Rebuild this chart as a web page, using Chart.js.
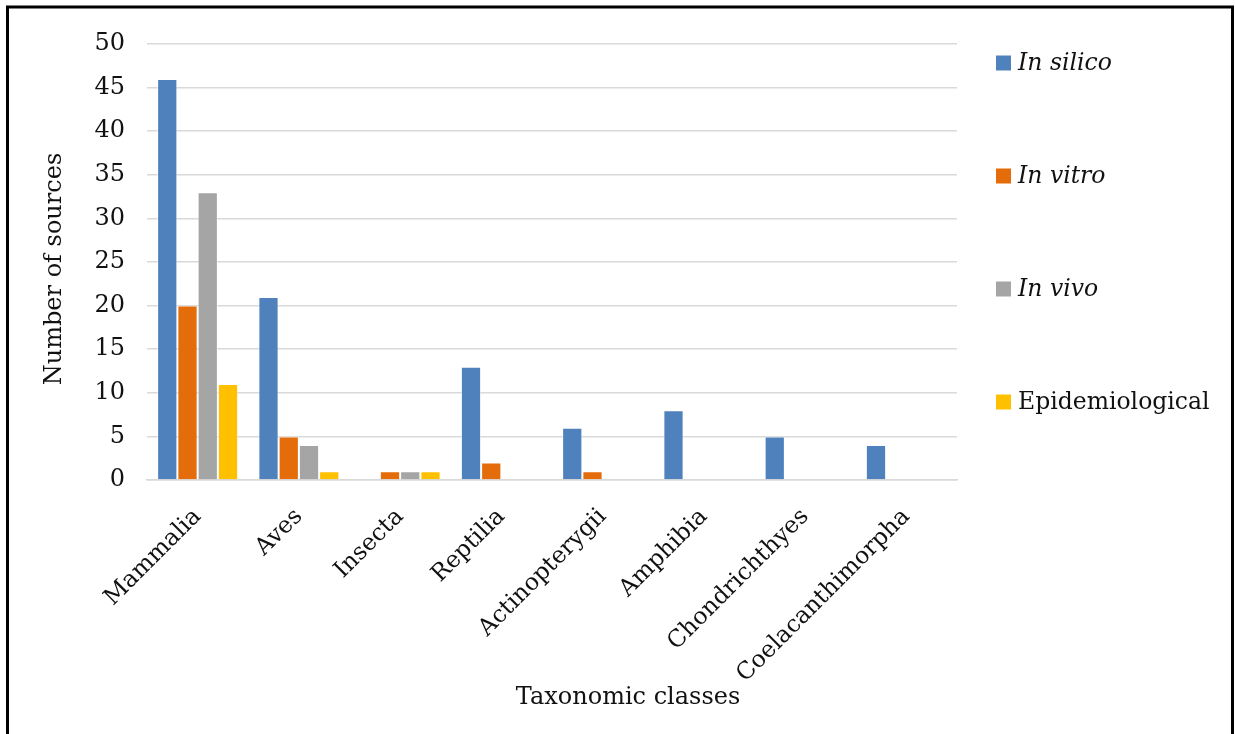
<!DOCTYPE html>
<html>
<head>
<meta charset="utf-8">
<script src="https://cdn.jsdelivr.net/npm/chart.js@4.4.1/dist/chart.umd.min.js"></script>
<style>
  html, body { margin: 0; padding: 0; background: #fff; }
  #wrap { position: relative; width: 1235px; height: 734px; }
</style>
</head>
<body>
<div id="wrap"><canvas id="c" width="1235" height="734"></canvas></div>
<script>
const categories = ["Mammalia", "Aves", "Insecta", "Reptilia", "Actinopterygii", "Amphibia", "Chondrichthyes", "Coelacanthimorpha"];
const inSilico = [46, 21, 0, 13, 6, 8, 5, 4];
const inVitro = [20, 5, 1, 2, 1, 0, 0, 0];
const inVivo = [33, 4, 1, 0, 0, 0, 0, 0];
const epidemiological = [11, 1, 1, 0, 0, 0, 0, 0];
const seriesNames = ["In silico", "In vitro", "In vivo", "Epidemiological"];
const seriesItalic = [true, true, true, false];
const yTicks = [0, 5, 10, 15, 20, 25, 30, 35, 40, 45, 50];
const xTitle = "Taxonomic classes";
const yTitle = "Number of sources";

const FONT = "'DejaVu Serif', 'Liberation Serif', serif";
const colors = ["#4F81BD", "#E46C0A", "#A5A5A5", "#FFC000"];

const framePlugin = {
  id: 'frame',
  afterDraw(chart) {
    const ctx = chart.ctx;
    ctx.save();
    // outer frame (top, left, right)
    ctx.strokeStyle = '#000';
    ctx.lineWidth = 3;
    ctx.beginPath();
    ctx.moveTo(7.5, 740);
    ctx.lineTo(7.5, 7);
    ctx.lineTo(1232.5, 7);
    ctx.lineTo(1232.5, 740);
    ctx.stroke();

    // axis titles
    ctx.fillStyle = '#111';
    ctx.font = "24px " + FONT;
    ctx.textAlign = 'center';
    ctx.textBaseline = 'middle';
    ctx.fillText(xTitle, 628, 698);
    ctx.save();
    ctx.translate(55, 269);
    ctx.rotate(-Math.PI / 2);
    ctx.fillText(yTitle, 0, 0);
    ctx.restore();

    // legend
    const ds = chart.data.datasets;
    const legendY = [63, 176, 289, 402];
    ds.forEach((d, i) => {
      const y = legendY[i];
      ctx.fillStyle = d.backgroundColor;
      ctx.fillRect(996, y - 7.5, 15, 15);
      ctx.fillStyle = '#111';
      ctx.font = (seriesItalic[i] ? "italic " : "") + "23.5px " + FONT;
      ctx.textAlign = 'left';
      ctx.textBaseline = 'middle';
      ctx.fillText(d.label, 1018, y + 1);
    });
    ctx.restore();
  }
};

const seriesData = [inSilico, inVitro, inVivo, epidemiological];

new Chart(document.getElementById('c'), {
  type: 'bar',
  data: {
    labels: categories,
    datasets: seriesNames.map((n, i) => ({
      label: n,
      data: seriesData[i],
      backgroundColor: colors[i],
      borderColor: 'rgba(255,255,255,0.55)',
      borderWidth: 1,
      categoryPercentage: 0.8,
      barPercentage: 1.0
    }))
  },
  options: {
    responsive: false,
    animation: false,
    devicePixelRatio: 1,
    layout: { padding: { left: 0, top: 44, right: 278, bottom: 0 } },
    plugins: {
      legend: { display: false },
      tooltip: { enabled: false }
    },
    scales: {
      x: {
        grid: { display: false, drawTicks: false },
        border: { display: true, color: '#D9D9D9', width: 1.5 },
        ticks: {
          color: '#111',
          font: { family: FONT, size: 23.5 },
          minRotation: 45,
          maxRotation: 45,
          padding: 23,
          autoSkip: false
        },
        afterFit(s) { s.height = 734 - 480; }
      },
      y: {
        min: 0,
        max: 50,
        afterBuildTicks(s) { s.ticks = yTicks.map(v => ({ value: v })); },
        grid: { color: '#D9D9D9', lineWidth: 1.5, drawTicks: false },
        border: { display: false },
        ticks: {
          color: '#111',
          font: { family: FONT, size: 24 },
          padding: 22
        },
        afterFit(s) { s.width = 147; }
      }
    }
  },
  plugins: [framePlugin]
});
</script>
</body>
</html>
